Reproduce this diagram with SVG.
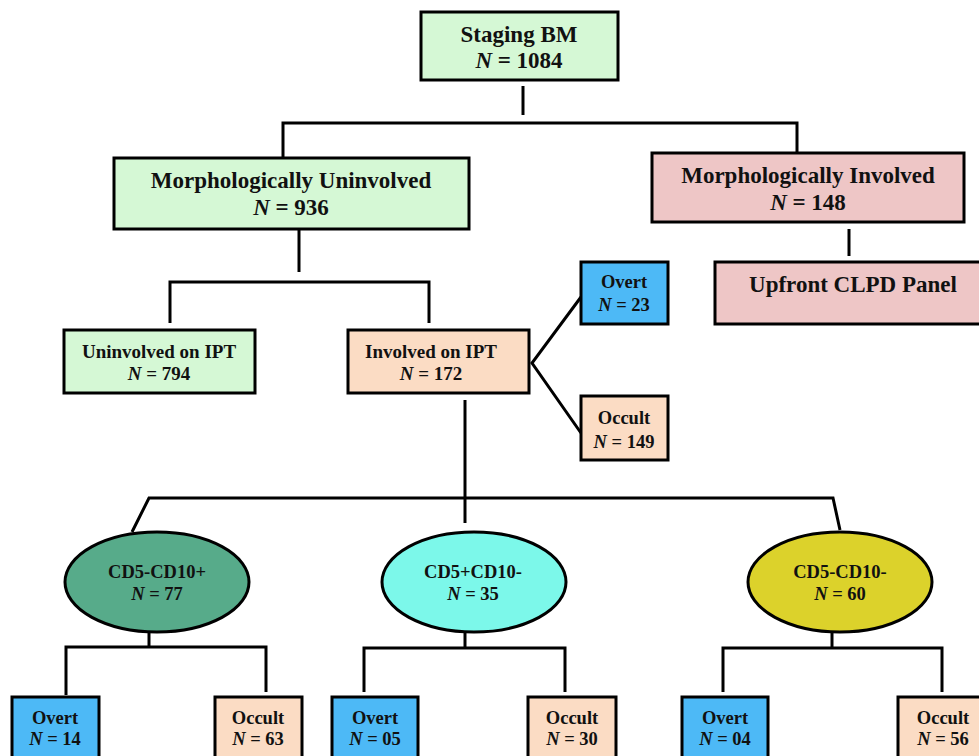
<svg xmlns="http://www.w3.org/2000/svg" width="979" height="756" viewBox="0 0 979 756">
<style>
.box{stroke:#000;stroke-width:3}
.g{fill:#d5f8d5}
.p{fill:#eec6c6}
.o{fill:#fbdcc4}
.b{fill:#4db9f6}
.e1{fill:#57ab8a}
.e2{fill:#7cf8ea}
.e3{fill:#dcd22b}
text{font-family:"Liberation Serif","Times New Roman",serif;font-weight:bold;fill:#111;text-anchor:middle}
.L{font-size:23px}
.M{font-size:19px}
.S{font-size:18.5px}
.i{font-style:italic}
#connectors path{fill:none;stroke:#000;stroke-width:3}
</style>
<rect width="979" height="756" fill="#fff"/>
<g id="connectors">
<path d="M523 86V115"/>
<path d="M283 157V123H797V153"/>
<path d="M299 229V272"/>
<path d="M170 323V282H429V323"/>
<path d="M849 229V256"/>
<path d="M581 297L532 363L581 433"/>
<path d="M465 400V523"/>
<path d="M132 532L149 498H833L840 530"/>
<path d="M149 632V647"/>
<path d="M66 695V647H266V692"/>
<path d="M465 632V648"/>
<path d="M364 692V648H565V692"/>
<path d="M832 632V648"/>
<path d="M723 692V648H942V692"/>
</g>
<g id="staging"><rect class="box g" x="421" y="12" width="197" height="68"/><text class="L" x="519" y="42">Staging BM</text><text class="L" x="519" y="68"><tspan class="i">N</tspan> = 1084</text></g>
<g id="morph-uninvolved"><rect class="box g" x="114" y="158" width="355" height="71"/><text class="L" x="291" y="188">Morphologically Uninvolved</text><text class="L" x="291" y="215"><tspan class="i">N</tspan> = 936</text></g>
<g id="morph-involved"><rect class="box p" x="652" y="153" width="312" height="69"/><text class="L" x="808" y="183">Morphologically Involved</text><text class="L" x="808" y="210"><tspan class="i">N</tspan> = 148</text></g>
<g id="upfront"><rect class="box p" x="715" y="262" width="280" height="62"/><text class="L" x="853" y="292">Upfront CLPD Panel</text></g>
<g id="uninvolved-ipt"><rect class="box g" x="64" y="330" width="191" height="63"/><text class="M" x="159" y="358">Uninvolved on IPT</text><text class="M" x="159" y="380"><tspan class="i">N</tspan> = 794</text></g>
<g id="involved-ipt"><rect class="box o" x="348" y="330" width="181" height="63"/><text class="M" x="431" y="358">Involved on IPT</text><text class="M" x="431" y="380"><tspan class="i">N</tspan> = 172</text></g>
<g id="overt23"><rect class="box b" x="581" y="262" width="87" height="62"/><text class="S" x="624" y="288">Overt</text><text class="S" x="624" y="311"><tspan class="i">N</tspan> = 23</text></g>
<g id="occult149"><rect class="box o" x="581" y="396" width="87" height="64"/><text class="S" x="624" y="424">Occult</text><text class="S" x="624" y="448"><tspan class="i">N</tspan> = 149</text></g>
<g id="cd5neg-cd10pos"><ellipse class="box e1" cx="157" cy="582" rx="92" ry="50"/><text class="S" x="157" y="578">CD5-CD10+</text><text class="S" x="157" y="600"><tspan class="i">N</tspan> = 77</text></g>
<g id="cd5pos-cd10neg"><ellipse class="box e2" cx="474" cy="582" rx="92" ry="50"/><text class="S" x="473" y="578">CD5+CD10-</text><text class="S" x="473" y="600"><tspan class="i">N</tspan> = 35</text></g>
<g id="cd5neg-cd10neg"><ellipse class="box e3" cx="840" cy="582" rx="92" ry="50"/><text class="S" x="840" y="578">CD5-CD10-</text><text class="S" x="840" y="600"><tspan class="i">N</tspan> = 60</text></g>
<g id="overt14"><rect class="box b" x="12" y="697" width="87" height="70"/><text class="S" x="55" y="724">Overt</text><text class="S" x="55" y="745"><tspan class="i">N</tspan> = 14</text></g>
<g id="occult63"><rect class="box o" x="215" y="697" width="87" height="70"/><text class="S" x="258" y="724">Occult</text><text class="S" x="258" y="745"><tspan class="i">N</tspan> = 63</text></g>
<g id="overt05"><rect class="box b" x="332" y="697" width="86" height="70"/><text class="S" x="375" y="724">Overt</text><text class="S" x="375" y="745"><tspan class="i">N</tspan> = 05</text></g>
<g id="occult30"><rect class="box o" x="528" y="697" width="88" height="70"/><text class="S" x="572" y="724">Occult</text><text class="S" x="572" y="745"><tspan class="i">N</tspan> = 30</text></g>
<g id="overt04"><rect class="box b" x="682" y="697" width="86" height="70"/><text class="S" x="725" y="724">Overt</text><text class="S" x="725" y="745"><tspan class="i">N</tspan> = 04</text></g>
<g id="occult56"><rect class="box o" x="898" y="697" width="90" height="70"/><text class="S" x="943" y="724">Occult</text><text class="S" x="943" y="745"><tspan class="i">N</tspan> = 56</text></g>
</svg>
